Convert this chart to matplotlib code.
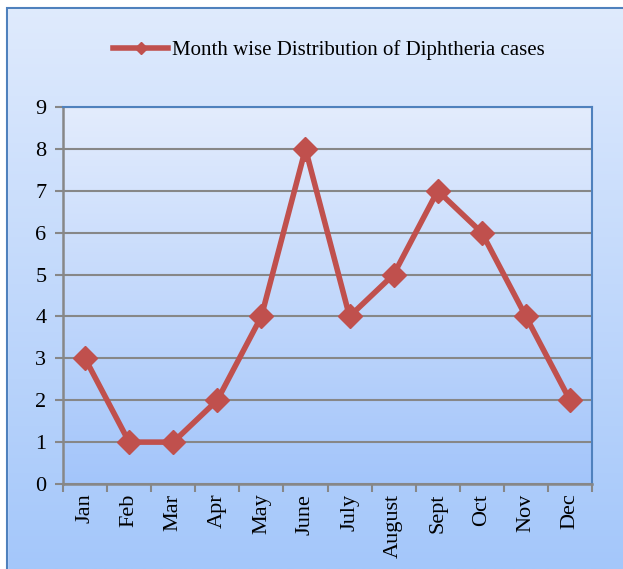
import numpy as np
import matplotlib
matplotlib.use('Agg')
import matplotlib.pyplot as plt
from matplotlib.patches import Rectangle

# Data
months = ['Jan', 'Feb', 'Mar', 'Apr', 'May', 'June', 'July', 'August',
          'Sept', 'Oct', 'Nov', 'Dec']
cases = [3, 1, 1, 2, 4, 8, 4, 5, 7, 6, 4, 2]
series_label = 'Month wise Distribution of Diphtheria cases'

plt.rcParams['font.family'] = ['Liberation Serif', 'DejaVu Serif']

fig = plt.figure(figsize=(6.23, 5.69), dpi=100)
fig.patch.set_facecolor('white')


def vgrad(top, bottom, n=256):
    top = np.array(top) / 255.0
    bottom = np.array(bottom) / 255.0
    t = np.linspace(0, 1, n)[:, None]
    return (top * (1 - t) + bottom * t)[:, None, :]


# Figure background gradient inside the chart frame
bg = fig.add_axes([0, 0, 1, 1], zorder=-2)
bg.imshow(vgrad((224, 235, 253), (164, 199, 250)), aspect='auto',
          extent=[0, 1, 0, 1])
bg.set_xlim(0, 1)
bg.set_ylim(0, 1)
bg.axis('off')
# white margin above / left of the frame
bg.add_patch(Rectangle((0, 0), 7 / 623, 1, color='white', zorder=3))
bg.add_patch(Rectangle((0, 1 - 8 / 569), 1, 8 / 569, color='white', zorder=3))
bg.add_patch(Rectangle((7 / 623, -0.1), 1.2, 1 - 8 / 569 + 0.1, fill=False,
                       edgecolor='#4f81bd', linewidth=1.5, zorder=4))

ax = fig.add_axes([63 / 623, 85 / 569, 529 / 623, 377 / 569])
ax.imshow(vgrad((227, 236, 253), (163, 197, 250)), aspect='auto',
          extent=[0, 1, 0, 1], transform=ax.transAxes, zorder=0)

x = np.arange(len(months))
line, = ax.plot(x, cases, color='#c0504d', linewidth=4, marker='D',
                markersize=12, zorder=3, label=series_label)

ax.set_xlim(-0.5, len(months) - 0.5)
ax.set_ylim(0, 9)
ax.set_yticks(range(0, 10))
ax.yaxis.grid(True, color='#878787', linewidth=1.5, zorder=1)
ax.set_axisbelow(True)

ax.set_xticks(x)
ax.set_xticklabels(months, rotation=90, fontsize=16)
ax.tick_params(axis='x', length=0, pad=7)
ax.set_xticks(np.arange(-0.5, len(months)), minor=True)
ax.tick_params(axis='x', which='minor', length=6, width=1.5, color='#878787')
ax.tick_params(axis='y', length=6, width=1.5, color='#878787', labelsize=16,
               pad=6)

for side in ['left', 'bottom']:
    ax.spines[side].set_color('#878787')
    ax.spines[side].set_linewidth(1.8)
for side in ['top', 'right']:
    ax.spines[side].set_color('#4f81bd')
    ax.spines[side].set_linewidth(1.5)

fig.legend(handles=[line], loc='center', bbox_to_anchor=(329 / 623, 1 - 50 / 569),
           frameon=False, fontsize=15, handlelength=2.6, handletextpad=0.2,
           markerscale=0.5)

plt.savefig('out.png', dpi=100)
